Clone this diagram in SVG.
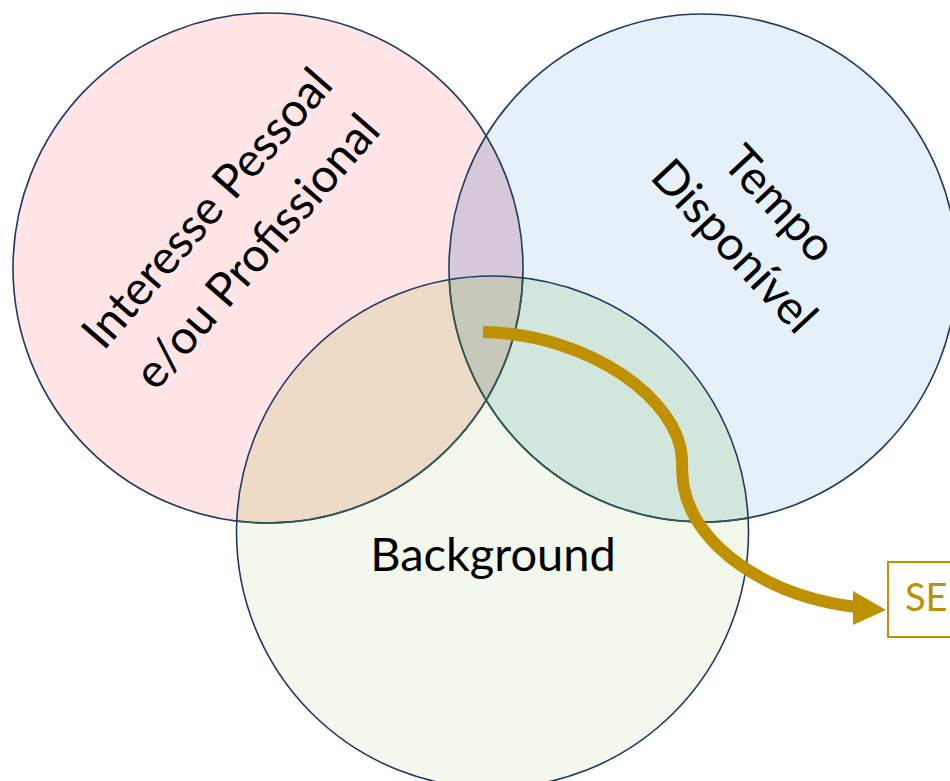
<svg xmlns="http://www.w3.org/2000/svg" width="950" height="781" viewBox="0 0 950 781">
<style>
.lbl{font-family:Lato,"Liberation Sans",sans-serif;font-size:47px;fill:#000;text-anchor:middle}
.edge{fill:none;stroke:#1F3864;stroke-width:1.6}
.edgein{fill:none;stroke:#33584F;stroke-width:1.6}
</style>
<defs>
<clipPath id="cL"><circle cx="268" cy="268" r="255"/></clipPath>
<clipPath id="cR"><circle cx="703" cy="268" r="254"/></clipPath>
<clipPath id="cB"><circle cx="492.5" cy="532" r="256"/></clipPath>
</defs>
<rect width="950" height="781" fill="#fff"/>
<g id="circle-interesse">
<circle cx="268" cy="268" r="255" fill="#FFE5E5"/>
</g>
<g id="circle-tempo">
<circle cx="703" cy="268" r="254" fill="#E5F0F9"/>
<circle cx="703" cy="268" r="254" fill="#D7C9D9" clip-path="url(#cL)"/>
</g>
<g id="circle-background">
<circle cx="492.5" cy="532" r="256" fill="#F2F8EC"/>
<circle cx="492.5" cy="532" r="256" fill="#EDDAC7" clip-path="url(#cL)"/>
<circle cx="492.5" cy="532" r="256" fill="#D2E7DC" clip-path="url(#cR)"/>
<g clip-path="url(#cL)"><circle cx="492.5" cy="532" r="256" fill="#C6C8BA" clip-path="url(#cR)"/></g>
</g>
<g id="outlines">
<circle class="edge" cx="268" cy="268" r="255"/>
<circle class="edge" cx="703" cy="268" r="254"/>
<g clip-path="url(#cB)">
<circle class="edgein" cx="268" cy="268" r="255"/>
<circle class="edgein" cx="703" cy="268" r="254"/>
</g>
<circle class="edge" cx="492.5" cy="532" r="256"/>
</g>
<g id="label-interesse" transform="translate(232,230) rotate(-49)">
<text class="lbl" x="0" y="-17">Interesse Pessoal</text>
<text class="lbl" x="0" y="49">e/ou Profissional</text>
</g>
<g id="label-tempo" transform="translate(757,225) rotate(47)">
<text class="lbl" x="0" y="-15">Tempo</text>
<text class="lbl" x="0" y="47">Disponível</text>
</g>
<g id="label-background">
<text class="lbl" x="493" y="571">Background</text>
</g>
<g id="node-se">
<rect x="888" y="562" width="80" height="75" fill="#fff" stroke="#BF9000" stroke-width="2"/>
<text x="905" y="611" font-family="Lato,'Liberation Sans',sans-serif" font-size="38" fill="#BF9000">SE</text>
</g>
<g id="connectors">
<path d="M483,332 C590,334 680,400 682,460 C682,470 682,478 684,488 C695,545 765,596 856,607" fill="none" stroke="#BF9000" stroke-width="12"/>
<polygon points="853,591 886,610 853,625" fill="#BF9000"/>
</g>
</svg>
